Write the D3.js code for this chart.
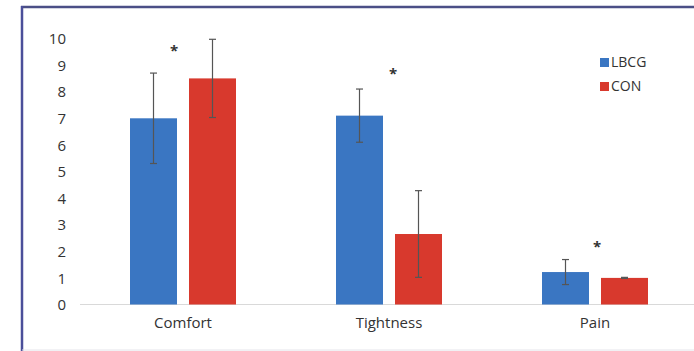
<!DOCTYPE html>
<html><head><meta charset="utf-8">
<script src="https://cdn.jsdelivr.net/npm/d3@7"></script>
<style>html,body{margin:0;padding:0;background:#fff;}svg{display:block;}</style>
</head><body>
<svg id="c" width="694" height="351"></svg>
<script>
const categories = ["Comfort", "Tightness", "Pain"];
const seriesNames = ["LBCG", "CON"];
const lbcgValues = [7.0, 7.1, 1.22];
const conValues = [8.5, 2.65, 1.0];
const lbcgErrors = [1.7, 1.0, 0.47];
const conErrors = [1.47, 1.63, 0.02];
const significance = ["*", "*", "*"];
const yTicks = [0,1,2,3,4,5,6,7,8,9,10];
const colors = ["#3a76c2", "#d8392d"];

const svg = d3.select("#c");
const font = "Open Sans, sans-serif";
// frame
svg.append("line").attr("x1",21).attr("x2",694).attr("y1",7).attr("y2",7).attr("stroke","#4b4f86").attr("stroke-width",2.5);
svg.append("line").attr("x1",22).attr("x2",22).attr("y1",6).attr("y2",351).attr("stroke","#4b4f9a").attr("stroke-width",2.5);
svg.append("line").attr("x1",22).attr("x2",694).attr("y1",350).attr("y2",350).attr("stroke","#e4e4ea").attr("stroke-width",1);

const x = d3.scaleBand().domain(categories).range([80, 698]).paddingInner(0).paddingOuter(0);
const y = d3.scaleLinear().domain([0, 10]).range([304.5, 38.5]);

// baseline
svg.append("line").attr("x1",80).attr("x2",694).attr("y1",y(0)).attr("y2",y(0)).attr("stroke","#d9d9d9").attr("stroke-width",1);

// y axis labels
const yAxis = d3.axisLeft(y).tickValues(yTicks).tickSize(0).tickPadding(0).tickFormat(d3.format("d"));
const ya = svg.append("g").attr("transform","translate(66,0)").call(yAxis);
ya.select(".domain").remove();
ya.selectAll("text").attr("font-family",font).attr("font-size","15px").attr("fill","#333").attr("dy","0.34em");

// x axis labels
const xAxis = d3.axisBottom(x).tickSize(0).tickPadding(0);
const xa = svg.append("g").attr("transform","translate(0,317)").call(xAxis);
xa.select(".domain").remove();
xa.selectAll("text").attr("font-family",font).attr("font-size","15px").attr("fill","#333");

const barW = 47, gap = 12;
const sub = d3.scaleOrdinal().domain(seriesNames).range([-(gap/2 + barW/2), gap/2 + barW/2]);
const data = [];
categories.forEach((c,i)=>{
  data.push({c, s:"LBCG", v:lbcgValues[i], e:lbcgErrors[i], col:colors[0]});
  data.push({c, s:"CON", v:conValues[i], e:conErrors[i], col:colors[1]});
});
const cx = d => x(d.c) + x.bandwidth()/2 + sub(d.s);

svg.append("g").selectAll("rect").data(data).join("rect")
  .attr("x", d => cx(d) - barW/2).attr("width", barW)
  .attr("y", d => y(d.v)).attr("height", d => y(0) - y(d.v))
  .attr("fill", d => d.col);

// error bars
const eg = svg.append("g").attr("stroke","#555").attr("stroke-width",1.2);
data.forEach(d=>{
  const X = cx(d);
  eg.append("line").attr("x1",X).attr("x2",X).attr("y1",y(d.v+d.e)).attr("y2",y(d.v-d.e));
  eg.append("line").attr("x1",X-3.5).attr("x2",X+3.5).attr("y1",y(d.v+d.e)).attr("y2",y(d.v+d.e));
  eg.append("line").attr("x1",X-3.5).attr("x2",X+3.5).attr("y1",y(d.v-d.e)).attr("y2",y(d.v-d.e));
});

// significance asterisks
const starPos = [9.6, 8.73, 2.25];
const starOff = [-9, 4, 2];
svg.append("g").selectAll("text").data(categories).join("text")
  .attr("x", (c,i)=> x(c) + x.bandwidth()/2 + starOff[i])
  .attr("y", (c,i)=> y(starPos[i]) + 7)
  .attr("text-anchor","middle").attr("font-family",font)
  .attr("font-size","15px").attr("font-weight","bold").attr("fill","#333")
  .text((c,i)=>significance[i]);

// legend
const lg = svg.append("g").attr("transform","translate(600,58)");
seriesNames.forEach((s,i)=>{
  const g = lg.append("g").attr("transform",`translate(0,${i*24})`);
  g.append("rect").attr("width",9).attr("height",9).attr("fill",colors[i]);
  g.append("text").attr("x",11).attr("y",4.5).attr("dy","0.35em")
    .attr("font-family",font).attr("font-size","14px").attr("fill","#333").text(s);
});
</script>
</body></html>
